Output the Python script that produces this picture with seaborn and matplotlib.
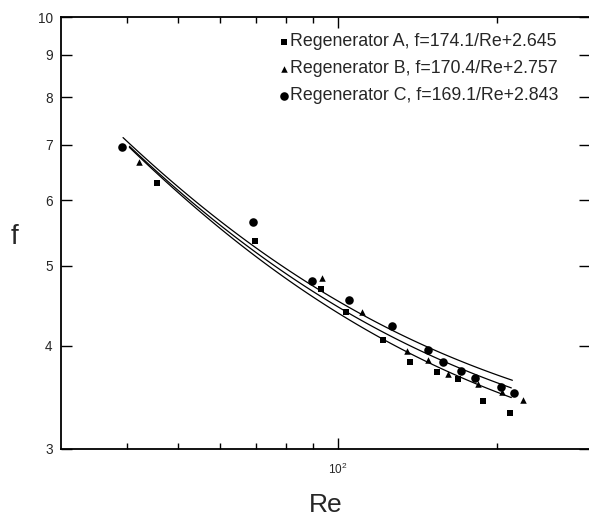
import numpy as np
import pandas as pd
import matplotlib
matplotlib.use("Agg")
import matplotlib.pyplot as plt
from matplotlib.ticker import FixedLocator, FixedFormatter, NullFormatter
import seaborn as sns

re_a = [45.6, 69.8, 92.9, 103.7, 121.7, 137.0, 153.9, 169.1, 188.5, 211.8]
f_a = [6.29, 5.35, 4.69, 4.40, 4.07, 3.82, 3.72, 3.65, 3.43, 3.32]

re_b = [42.1, 93.6, 111.1, 135.1, 148.0, 161.5, 184.5, 204.8, 223.8]
f_b = [6.67, 4.83, 4.40, 3.94, 3.84, 3.70, 3.60, 3.52, 3.44]

re_c = [39.2, 69.3, 89.3, 105.1, 126.6, 148.0, 158.4, 170.8, 181.8, 203.6, 215.5]
f_c = [6.97, 5.65, 4.79, 4.54, 4.23, 3.95, 3.82, 3.73, 3.66, 3.57, 3.51]

labels = ["Regenerator A, f=174.1/Re+2.645",
          "Regenerator B, f=170.4/Re+2.757",
          "Regenerator C, f=169.1/Re+2.843"]

# correlation f = k/Re + c, as given in the legend
fit_k = [174.1, 170.4, 169.1]
fit_c = [2.645, 2.757, 2.843]
fit_re_lo = [40.4, 40.4, 39.3]
fit_re_hi = [213.0, 213.0, 214.0]

y_ticks = [3, 4, 5, 6, 7, 8, 9, 10]
y_ticklabels = ["3", "4", "5", "6", "7", "8", "9", "10"]
x_major = [100]
x_major_labels = ["$10^2$"]
x_minor = [40, 50, 60, 70, 80, 90, 200]

sns.set_style("ticks")
plt.rcParams["font.family"] = ["Liberation Sans", "DejaVu Sans"]
plt.rcParams["mathtext.default"] = "regular"

fig = plt.figure(figsize=(5.89, 5.18), dpi=100)
ax = fig.add_axes([61 / 589, 69 / 518, 529 / 589, 432 / 518])

# fitted curves
for k, c, lo, hi in zip(fit_k, fit_c, fit_re_lo, fit_re_hi):
    re_line = np.geomspace(lo, hi, 80)
    line_df = pd.DataFrame({"Re": re_line, "f": k / re_line + c})
    sns.lineplot(data=line_df, x="Re", y="f", ax=ax, color="black",
                 linewidth=0.9, sort=False, estimator=None)

# data points
sets = [(re_a, f_a, "s", 15), (re_b, f_b, "^", 22), (re_c, f_c, "o", 38)]
for (re_v, f_v, mk, sz), lab in zip(sets, labels):
    df = pd.DataFrame({"Re": re_v, "f": f_v})
    sns.scatterplot(data=df, x="Re", y="f", ax=ax, marker=mk, s=sz,
                    color="black", linewidth=0, label=lab)

ax.set_xscale("log")
ax.set_yscale("log")
ax.set_xlim(30, 300)
ax.set_ylim(3, 10)

ax.yaxis.set_major_locator(FixedLocator(y_ticks))
ax.yaxis.set_major_formatter(FixedFormatter(y_ticklabels))
ax.yaxis.set_minor_locator(FixedLocator([]))
ax.xaxis.set_major_locator(FixedLocator(x_major))
ax.xaxis.set_major_formatter(FixedFormatter(x_major_labels))
ax.xaxis.set_minor_locator(FixedLocator(x_minor))
ax.xaxis.set_minor_formatter(NullFormatter())

ax.tick_params(which="both", direction="in", top=True, right=True,
               color="black", width=1.0)
ax.tick_params(which="major", length=8)
ax.tick_params(which="minor", length=4)
ax.tick_params(axis="y", labelsize=9.8, pad=6)
ax.tick_params(axis="x", labelsize=8.5, pad=9)

for sp in ax.spines.values():
    sp.set_linewidth(1.3)
    sp.set_color("black")

ax.set_xlabel("Re", fontsize=19, labelpad=12)
ax.set_ylabel("f", fontsize=20, rotation=0, ha="center", va="center")
ax.yaxis.set_label_coords(-0.088, 0.49)

ax.legend(loc="upper left", bbox_to_anchor=(0.416, 0.962), frameon=False,
          fontsize=12.8, handlelength=0.38, handletextpad=0.1,
          borderpad=0, borderaxespad=0, labelspacing=0.56)

fig.savefig("out.png", dpi=100)
